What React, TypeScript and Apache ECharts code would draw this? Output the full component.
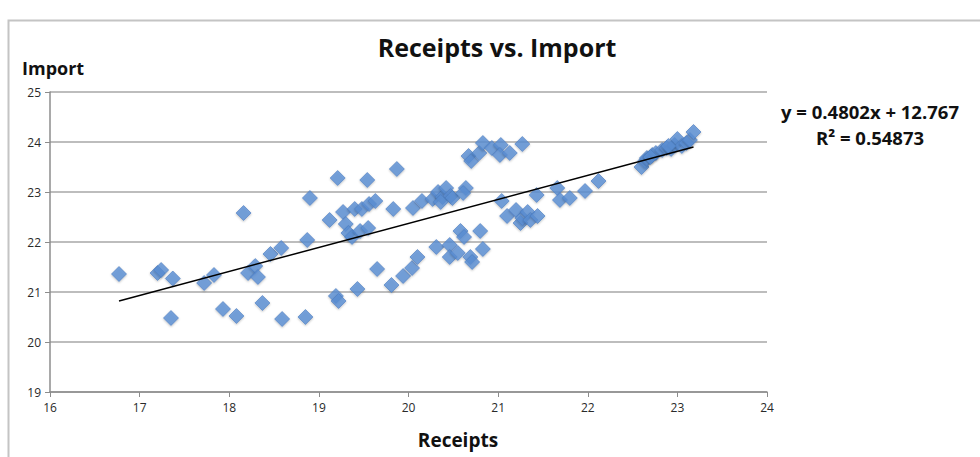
import React, { useEffect, useRef } from "react";
import * as echarts from "echarts";

const receipts = [
  16.77, 17.2, 17.24, 17.37, 17.35, 17.72, 17.83, 17.93, 18.08, 18.16,
  18.21, 18.29, 18.32, 18.37, 18.46, 18.58, 18.59, 18.85, 18.87, 18.9,
  19.12, 19.21, 19.19, 19.22, 19.27, 19.3, 19.33, 19.37, 19.4, 19.43,
  19.46, 19.48, 19.54, 19.55, 19.56, 19.63, 19.65, 19.81, 19.83, 19.87,
  19.94, 20.04, 20.05, 20.1, 20.15, 20.27, 20.31, 20.33, 20.38, 20.42,
  20.46, 20.47, 20.46, 20.55, 20.58, 20.62, 20.64, 20.69, 20.71, 20.67,
  20.7, 20.79, 20.8, 20.83, 20.83, 20.93, 21.03, 21.02, 21.13, 21.27,
  21.04, 21.1, 21.2, 21.25, 21.27, 21.33, 21.36, 21.44, 21.43, 21.66,
  21.69, 21.8, 21.97, 22.12, 22.6, 22.64, 22.66, 22.72, 22.76, 22.83,
  22.88, 22.93, 22.97, 23.0, 23.05, 23.1, 23.14, 23.18, 22.9, 22.7,
  20.49, 20.61, 20.36,
];
const imports = [
  21.36, 21.38, 21.44, 21.27, 20.48, 21.18, 21.34, 20.66, 20.52, 22.58,
  21.38, 21.52, 21.3, 20.78, 21.76, 21.88, 20.46, 20.5, 22.04, 22.88,
  22.44, 23.28, 20.92, 20.82, 22.6, 22.36, 22.18, 22.1, 22.66, 21.06,
  22.22, 22.66, 23.24, 22.28, 22.76, 22.82, 21.46, 21.14, 22.66, 23.46,
  21.32, 21.48, 22.68, 21.7, 22.82, 22.86, 21.9, 23.0, 22.9, 23.08,
  21.94, 22.92, 21.7, 21.78, 22.22, 22.1, 23.08, 21.7, 21.6, 23.72,
  23.62, 23.78, 22.22, 21.86, 23.98, 23.88, 23.94, 23.74, 23.78, 23.96,
  22.82, 22.52, 22.64, 22.38, 22.48, 22.6, 22.44, 22.52, 22.94, 23.08,
  22.84, 22.88, 23.02, 23.22, 23.5, 23.62, 23.68, 23.74, 23.78, 23.84,
  23.88, 23.86, 23.94, 24.06, 23.92, 23.98, 24.04, 24.2, 23.92, 23.7,
  22.88, 22.98, 22.8,
];

const slope = 0.4802;
const intercept = 12.767;
const trendX = [16.77, 23.18];
const xTicks = [16, 24, 1];
const yTicks = [19, 25, 1];
const chartTitle = "Receipts vs. Import";
const eqText = "y = 0.4802x + 12.767";
const r2Text = "R² = 0.54873";

const FONT = "'Open Sans', sans-serif";

export default function App() {
  const ref = useRef<HTMLDivElement>(null);
  useEffect(() => {
    document.body.style.margin = "0";
    const chart = echarts.init(ref.current!, null, { renderer: "svg" });
    const points = receipts.map((x, i) => [x, imports[i]]);
    const trend = trendX.map((x) => [x, slope * x + intercept]);
    chart.setOption({
      animation: false,
      backgroundColor: "#ffffff",
      grid: { left: 50, top: 92, width: 717, height: 300 },
      xAxis: {
        type: "value",
        min: xTicks[0],
        max: xTicks[1],
        interval: xTicks[2],
        axisLine: { show: true, onZero: false, lineStyle: { color: "#8c8c8c", width: 1.5 } },
        axisTick: { show: true, length: 5, lineStyle: { color: "#8c8c8c" } },
        axisLabel: { color: "#2a2a2a", fontSize: 12, fontFamily: FONT, margin: 9 },
        splitLine: { show: false },
      },
      yAxis: {
        type: "value",
        min: yTicks[0],
        max: yTicks[1],
        interval: yTicks[2],
        axisLine: { show: true, lineStyle: { color: "#8c8c8c", width: 1.5 } },
        axisTick: { show: true, length: 5, lineStyle: { color: "#8c8c8c" } },
        axisLabel: { color: "#2a2a2a", fontSize: 12, fontFamily: FONT, margin: 9 },
        splitLine: { show: true, lineStyle: { color: "#bdbdbd", width: 2 } },
      },
      graphic: [
        {
          type: "rect",
          shape: { x: 8.5, y: 20.5, width: 990, height: 460 },
          style: { fill: "none", stroke: "#c4c4c4", lineWidth: 2 },
          silent: true,
        },
        {
          type: "text",
          x: 497,
          y: 47,
          style: {
            text: chartTitle,
            fontFamily: FONT,
            fontWeight: "bold",
            fontSize: 25,
            fill: "#111",
            textAlign: "center",
            textVerticalAlign: "middle",
          },
        },
        {
          type: "text",
          x: 22,
          y: 68,
          style: {
            text: "Import",
            fontFamily: FONT,
            fontWeight: "bold",
            fontSize: 18,
            fill: "#111",
            textAlign: "left",
            textVerticalAlign: "middle",
          },
        },
        {
          type: "text",
          x: 458,
          y: 440,
          style: {
            text: "Receipts",
            fontFamily: FONT,
            fontWeight: "bold",
            fontSize: 19,
            fill: "#111",
            textAlign: "center",
            textVerticalAlign: "middle",
          },
        },
        {
          type: "text",
          x: 870,
          y: 111,
          style: {
            text: eqText,
            fontFamily: FONT,
            fontWeight: "bold",
            fontSize: 18.5,
            fill: "#111",
            textAlign: "center",
            textVerticalAlign: "middle",
          },
        },
        {
          type: "text",
          x: 870,
          y: 137,
          style: {
            text: r2Text,
            fontFamily: FONT,
            fontWeight: "bold",
            fontSize: 18.5,
            fill: "#111",
            textAlign: "center",
            textVerticalAlign: "middle",
          },
        },
      ],
      series: [
        {
          type: "scatter",
          data: points,
          symbol: "diamond",
          symbolSize: [15, 15],
          itemStyle: {
            color: "#5b8fd5",
            borderColor: "#4a7cc0",
            borderWidth: 0.8,
            shadowBlur: 2,
            shadowColor: "rgba(0,0,0,0.3)",
            shadowOffsetY: 1,
          },
          z: 2,
        },
        {
          type: "line",
          data: trend,
          symbol: "none",
          lineStyle: { color: "#000", width: 1.5 },
          z: 3,
        },
      ],
    });
    return () => chart.dispose();
  }, []);
  return <div ref={ref} style={{ width: 980, height: 457 }} />;
}
